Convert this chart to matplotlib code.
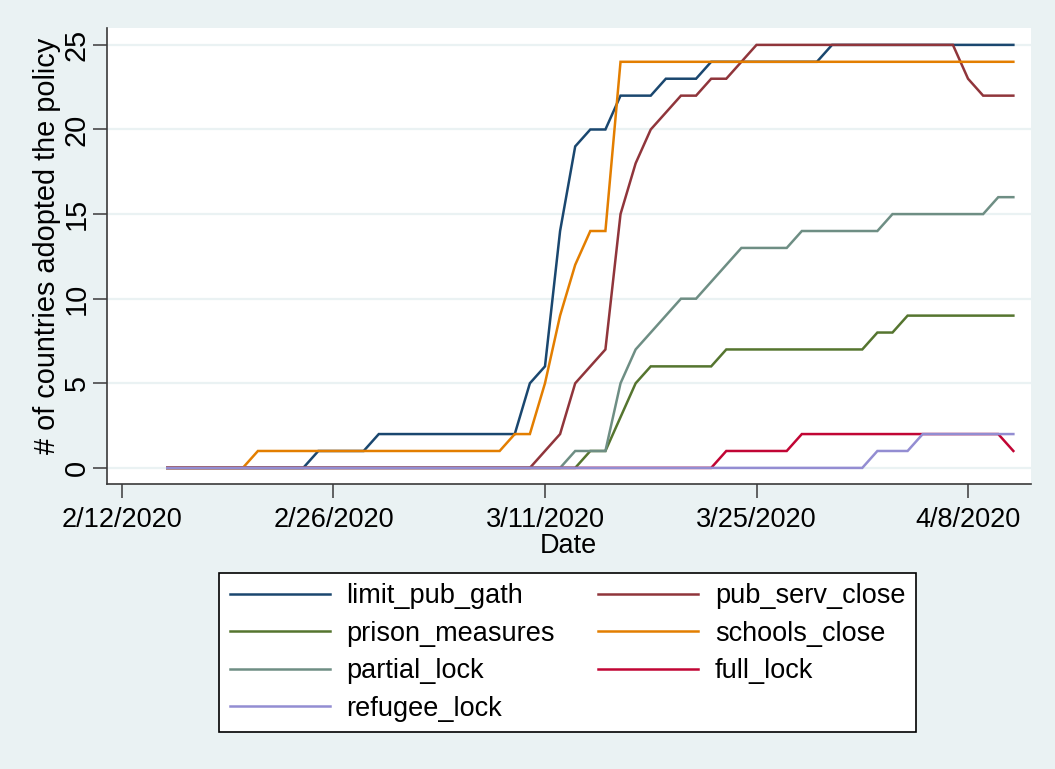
import matplotlib
matplotlib.use("Agg")
import matplotlib.pyplot as plt
import pandas as pd
from matplotlib.lines import Line2D

dates = pd.date_range("2020-02-15", "2020-04-11", freq="D")

limit_pub_gath = [0, 0, 0, 0, 0, 0, 0, 0, 0, 0,
                  1, 1, 1, 1,
                  2, 2, 2, 2, 2, 2, 2, 2, 2, 2,
                  5, 6, 14, 19, 20, 20, 22, 22, 22, 23, 23, 23,
                  24, 24, 24, 24, 24, 24, 24, 24,
                  25, 25, 25, 25, 25, 25, 25, 25, 25, 25, 25, 25, 25]
pub_serv_close = [0, 0, 0, 0, 0, 0, 0, 0, 0, 0, 0, 0, 0, 0, 0, 0, 0, 0, 0, 0, 0, 0, 0, 0, 0,
                  1, 2, 5, 6, 7, 15, 18, 20, 21, 22, 22, 23, 23, 24,
                  25, 25, 25, 25, 25, 25, 25, 25, 25, 25, 25, 25, 25, 25,
                  23, 22, 22, 22]
prison_measures = [0, 0, 0, 0, 0, 0, 0, 0, 0, 0, 0, 0, 0, 0, 0, 0, 0, 0, 0, 0, 0, 0, 0, 0, 0, 0, 0, 0,
                   1, 1, 3, 5,
                   6, 6, 6, 6, 6,
                   7, 7, 7, 7, 7, 7, 7, 7, 7, 7,
                   8, 8,
                   9, 9, 9, 9, 9, 9, 9, 9]
schools_close = [0, 0, 0, 0, 0, 0,
                 1, 1, 1, 1, 1, 1, 1, 1, 1, 1, 1, 1, 1, 1, 1, 1, 1,
                 2, 2, 5, 9, 12, 14, 14,
                 24, 24, 24, 24, 24, 24, 24, 24, 24, 24, 24, 24, 24, 24,
                 24, 24, 24, 24, 24, 24, 24, 24, 24, 24, 24, 24, 24]
partial_lock = [0, 0, 0, 0, 0, 0, 0, 0, 0, 0, 0, 0, 0, 0, 0, 0, 0, 0, 0, 0, 0, 0, 0, 0, 0, 0, 0,
                1, 1, 1, 5, 7, 8, 9, 10, 10, 11, 12,
                13, 13, 13, 13,
                14, 14, 14, 14, 14, 14,
                15, 15, 15, 15, 15, 15, 15,
                16, 16]
full_lock = [0, 0, 0, 0, 0, 0, 0, 0, 0, 0, 0, 0, 0, 0, 0, 0, 0, 0, 0, 0, 0, 0, 0, 0, 0, 0, 0, 0, 0, 0,
             0, 0, 0, 0, 0, 0, 0,
             1, 1, 1, 1, 1,
             2, 2, 2, 2, 2, 2, 2, 2, 2, 2, 2, 2, 2, 2,
             1]
refugee_lock = [0, 0, 0, 0, 0, 0, 0, 0, 0, 0, 0, 0, 0, 0, 0, 0, 0, 0, 0, 0, 0, 0, 0, 0, 0, 0, 0, 0, 0, 0,
                0, 0, 0, 0, 0, 0, 0, 0, 0, 0, 0, 0, 0, 0, 0, 0, 0,
                1, 1, 1,
                2, 2, 2, 2, 2, 2, 2]

series_names = ["limit_pub_gath", "pub_serv_close", "prison_measures", "schools_close",
                "partial_lock", "full_lock", "refugee_lock"]
series_values = [limit_pub_gath, pub_serv_close, prison_measures, schools_close,
                 partial_lock, full_lock, refugee_lock]
colors = ["#1a476f", "#90353b", "#55752f", "#e37e00", "#6e8e84", "#c10534", "#938dd2"]

xtick_dates = pd.to_datetime(["2020-02-12", "2020-02-26", "2020-03-11", "2020-03-25", "2020-04-08"])
xtick_labels = ["2/12/2020", "2/26/2020", "3/11/2020", "3/25/2020", "4/8/2020"]
ytick_vals = [0, 5, 10, 15, 20, 25]

plt.rcParams["font.family"] = ["Liberation Sans", "DejaVu Sans"]
FS = 19.5
FSR = 20.8
bg = "#eaf2f3"

fig = plt.figure(figsize=(10.55, 7.69), dpi=100, facecolor=bg)
ax = fig.add_axes([0.1011, 0.3702, 0.977 - 0.1011, 0.9632 - 0.3702])
ax.set_facecolor("white")

handles = []
for name, vals, c in zip(series_names, series_values, colors):
    h, = ax.plot(dates, vals, color=c, lw=1.8, label=name, solid_joinstyle="miter")
    handles.append(h)

ax.set_xlim(pd.Timestamp("2020-02-12") - pd.Timedelta(days=1.01),
            pd.Timestamp("2020-02-12") + pd.Timedelta(days=60.15))
ax.set_ylim(-0.97, 25.98)

ax.set_xticks(xtick_dates)
ax.set_xticklabels(xtick_labels, fontsize=FS)
ax.set_yticks(ytick_vals)
ax.set_yticklabels([str(v) for v in ytick_vals], fontsize=FSR, rotation=90, va="center")

ax.grid(axis="y", color=bg, lw=1.6)
ax.set_axisbelow(True)
for s in ["top", "right"]:
    ax.spines[s].set_visible(False)
for s in ["left", "bottom"]:
    ax.spines[s].set_color("#3a3a3a")
    ax.spines[s].set_linewidth(1.2)
ax.tick_params(axis="both", direction="out", length=10, width=1.1, color="#3a3a3a", pad=6)
ax.tick_params(axis="y", pad=1.5)

ax.set_xlabel("Date", fontsize=FS, labelpad=0)
ax.set_ylabel("# of countries adopted the policy", fontsize=FSR, labelpad=1)
ax.yaxis.label.set_y(0.522)

order = [0, 2, 4, 6, 1, 3, 5]
leg_handles = [Line2D([0], [0], color=colors[i], lw=1.8) for i in order]
leg_labels = [series_names[i] for i in order]
leg = fig.legend(leg_handles, leg_labels, ncol=2, loc="center",
                 bbox_to_anchor=(0.538, 0.1515), fontsize=FS,
                 frameon=True, fancybox=False, edgecolor="black", facecolor="white",
                 framealpha=1, handlelength=3.7, handletextpad=0.6, columnspacing=1.6,
                 labelspacing=0.42, borderpad=0.4, borderaxespad=0)
leg.get_frame().set_linewidth(1.2)

fig.savefig("out.png", dpi=100, facecolor=bg)
